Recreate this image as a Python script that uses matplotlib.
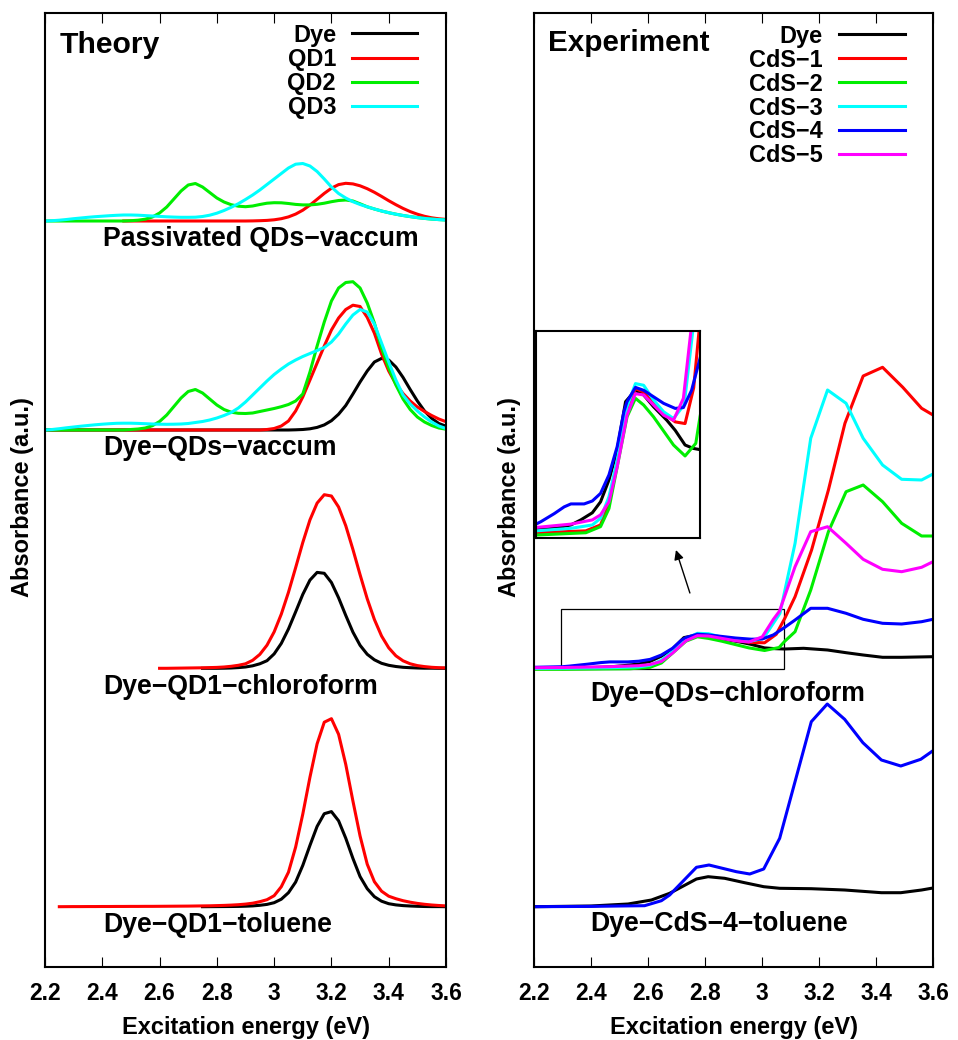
import numpy as np
import matplotlib.pyplot as plt
from matplotlib.patches import Rectangle

plt.rcParams['font.family'] = ['Liberation Sans', 'DejaVu Sans']
plt.rcParams['font.weight'] = 'bold'

# ---------------- theory (broadened spectra, sampled every 0.025 eV) ----------------
e_th = [2.200, 2.225, 2.250, 2.275, 2.300, 2.325, 2.350, 2.375, 2.400, 2.425,
        2.450, 2.475, 2.500, 2.525, 2.550, 2.575, 2.600, 2.625, 2.650, 2.675,
        2.700, 2.725, 2.750, 2.775, 2.800, 2.825, 2.850, 2.875, 2.900, 2.925,
        2.950, 2.975, 3.000, 3.025, 3.050, 3.075, 3.100, 3.125, 3.150, 3.175,
        3.200, 3.225, 3.250, 3.275, 3.300, 3.325, 3.350, 3.375, 3.400, 3.425,
        3.450, 3.475, 3.500, 3.525, 3.550, 3.575, 3.600]

pass_qd1 = [0, 0, 0, 0, 0, 0, 0, 0, 0, 0,
            0, 0, 0, 0, 0, 0, 0, 0, 0, 0,
            0, 0, 0, 0, 0, 0, 0, 0, 0, 0.1,
            0.3, 0.6, 1.2, 2.3, 4.1, 6.9, 10.8, 15.9, 21.7, 27.6,
            32.8, 36.4, 37.7, 37.1, 35.2, 32.3, 28.7, 24.6, 20.3, 16.3,
            12.6, 9.4, 6.8, 4.7, 3.2, 2.2, 1.6]
pass_qd2 = [0, 0, 0, 0, 0, 0, 0, 0, 0, 0,
            0, 0, 0.3, 0.8, 1.8, 4, 8, 14, 22, 30,
            36, 37.5, 34, 28.5, 23, 19, 16.3, 14.8, 14.3, 15,
            16.5, 17.8, 18.3, 18.2, 17.5, 16.6, 16.1, 16.1, 16.7, 17.8,
            19.3, 20.5, 21, 20, 17.2, 14.2, 12, 10, 8.3, 6.8,
            5.5, 4.4, 3.4, 2.6, 1.9, 1.4, 1]
pass_qd3 = [0, 0.3, 0.8, 1.5, 2.3, 3, 3.7, 4.3, 4.8, 5.3,
            5.7, 6, 6, 5.8, 5.4, 5, 4.6, 4.2, 3.9, 3.7,
            3.7, 3.8, 4.5, 5.8, 7.8, 10.5, 13.7, 17.3, 21.5, 26,
            31, 36.5, 42, 47.5, 53, 56.8, 57.5, 55, 49.5, 42,
            34, 27.5, 23, 19.3, 16.5, 14.2, 12, 10, 8.3, 6.8,
            5.5, 4.4, 3.4, 2.6, 1.9, 1.4, 1]

vac_dye = [0, 0, 0, 0, 0, 0, 0, 0, 0, 0,
           0, 0, 0, 0, 0, 0, 0, 0, 0, 0,
           0, 0, 0, 0, 0, 0, 0, 0, 0, 0,
           0, 0, 0, 0, 0, 0.2, 0.5, 1.2, 2.6, 5.1,
           9.3, 15.8, 24.5, 36, 48, 59, 68, 71.6, 70, 63,
           52.6, 40.5, 29, 19, 11.6, 6.5, 3.8]
vac_qd1 = [0, 0, 0, 0, 0, 0, 0, 0, 0, 0,
           0, 0, 0, 0, 0, 0, 0, 0, 0, 0,
           0, 0, 0, 0, 0, 0, 0, 0, 0, 0,
           0, 0.5, 1.5, 4, 9, 19, 33, 50, 67, 84,
           100, 112, 120.5, 124.8, 123.5, 112.6, 96.8, 76, 59, 46,
           36.5, 29, 23, 18.5, 14.5, 11, 8.3]
vac_qd2 = [0, 0, 0, 0, 0, 0, 0, 0, 0, 0,
           0, 0, 0.5, 1, 2, 4.3, 8.5, 15, 23.5, 32,
           38.5, 40.5, 37, 31, 25, 20.5, 17.8, 16.7, 16.5, 17,
           18.5, 20, 21.5, 23.3, 25.5, 29, 36, 58, 84, 108,
           129, 142, 147.5, 148.3, 142, 127, 107, 82, 62, 45,
           31, 20.5, 13, 8, 4.5, 2, 0.8]
vac_qd3 = [0, 0.5, 1.3, 2.2, 3, 3.8, 4.5, 5.2, 5.8, 6.3,
           6.7, 6.8, 6.8, 6.6, 6.3, 6, 5.8, 5.7, 5.8, 6,
           6.5, 7.5, 8.5, 10, 12, 14.5, 17.5, 22, 28, 35,
           42, 49, 55.5, 61, 66, 70, 73.5, 76.5, 79.5, 82.5,
           88, 96, 106, 115, 120.5, 118, 106, 87, 68, 50,
           35, 26, 19, 13, 8, 4, 1.5]

chl_dye = [0, 0, 0, 0, 0, 0, 0, 0, 0, 0,
           0, 0, 0, 0, 0, 0, 0, 0, 0, 0,
           0, 0, 0, 0, 0, 0.1, 0.3, 0.7, 1.3, 2.5,
           4.5, 7.6, 14.4, 24.9, 39.3, 56.4, 73.9, 88.2, 95.9, 95,
           85.8, 70.5, 52.9, 36.2, 23, 14, 8.5, 5, 3, 1.8,
           1, 0.6, 0.3, 0.1, 0.1, 0, 0]
chl_qd1 = [0, 0, 0, 0, 0, 0, 0, 0, 0, 0,
           0, 0, 0, 0, 0, 0, 0, 0, 0.1, 0.2,
           0.3, 0.4, 0.5, 0.7, 0.9, 1.3, 2, 3, 4.5, 8,
           13.9, 23.1, 36.4, 54.2, 76, 100.6, 125.8, 148.4, 165.2, 173.6,
           172.3, 161.3, 142.6, 118.9, 93.6, 69.5, 48.8, 32.3, 20.5, 12.5,
           7.5, 4.5, 2.7, 1.7, 1, 0.6, 0.4]

tol_dye = [0, 0, 0, 0, 0, 0, 0, 0, 0, 0,
           0, 0, 0, 0, 0, 0, 0, 0, 0, 0,
           0, 0, 0, 0.05, 0.1, 0.15, 0.2, 0.3, 0.5, 0.8,
           1.4, 2.3, 4, 7.5, 14, 24.6, 41.3, 61.3, 80.3, 93,
           95.1, 85.9, 68.5, 48.3, 30.1, 18, 10, 5.5, 3, 1.8,
           1.1, 0.7, 0.4, 0.2, 0.1, 0.1, 0]
tol_qd1 = [0, 0, 0, 0.05, 0.1, 0.1, 0.15, 0.15, 0.2, 0.2,
           0.25, 0.25, 0.3, 0.3, 0.35, 0.35, 0.4, 0.45, 0.5, 0.55,
           0.6, 0.7, 0.8, 0.9, 1.1, 1.3, 1.6, 2, 2.6, 3.5,
           5, 7, 11, 20, 34.5, 59.6, 92.6, 129.5, 162.9, 184.5,
           188, 172.4, 142.3, 105.7, 70.7, 42.5, 25, 15.5, 10.5, 8,
           6, 4.5, 3.3, 2.4, 1.7, 1.2, 0.8]

# ---------------- experiment (measured spectra) ----------------
dye_chl_e = [2.2, 2.3, 2.387, 2.466, 2.513, 2.568, 2.607, 2.647, 2.686, 2.726, 2.773, 2.812,
             2.859, 2.922, 2.962, 3.009, 3.048, 3.08, 3.146, 3.23, 3.295, 3.355, 3.423, 3.49, 3.6]
dye_chl_a = [1.3, 1.3, 1.6, 2.4, 3.6, 5.3, 7.9, 13.1, 20.2, 31.7, 34.4, 33.3,
             30.5, 27.3, 24.9, 21.4, 20.6, 20.3, 21, 19.3, 16.6, 14.3, 12, 12, 12.6]
cds1_e = [2.2, 2.3, 2.537, 2.607, 2.647, 2.686, 2.733, 2.773, 2.812, 2.859, 2.907, 2.962,
          3.009, 3.05, 3.08, 3.116, 3.174, 3.233, 3.291, 3.355, 3.423, 3.494, 3.56, 3.6]
cds1_a = [0.5, 0.55, 1.0, 2.4, 7.5, 17.0, 29.7, 34.8, 34.0, 31.3, 28.9, 26.9,
          26.5, 35, 51, 72.6, 119.3, 179.3, 246, 293.3, 302, 282, 261, 254.3]
cds2_e = [2.2, 2.3, 2.537, 2.607, 2.647, 2.686, 2.733, 2.773, 2.812, 2.859, 2.954, 3.009,
          3.06, 3.08, 3.116, 3.171, 3.233, 3.295, 3.355, 3.423, 3.49, 3.56, 3.6]
cds2_a = [0, 0, 0.55, 2.0, 6.3, 16.2, 28.1, 32.5, 30.9, 28.1, 21.4, 18.8,
          21.8, 28.1, 37.6, 79.3, 137.6, 177.6, 184.3, 167.6, 146, 133.3, 133.3]
cds3_e = [2.2, 2.3, 2.466, 2.568, 2.607, 2.647, 2.686, 2.733, 2.773, 2.812, 2.859, 2.907,
          2.954, 3.005, 3.063, 3.116, 3.171, 3.23, 3.295, 3.355, 3.423, 3.49, 3.56, 3.6]
cds3_a = [0.8, 1.0, 1.6, 2.4, 4.0, 9.1, 17.8, 30.5, 36.0, 35.6, 32.1, 29.3,
          27.7, 31, 56, 126, 231, 279.3, 266, 231, 204.3, 190, 189.3, 195.3]
cds4_e = [2.2, 2.3, 2.324, 2.387, 2.434, 2.466, 2.529, 2.568, 2.607, 2.647, 2.686, 2.718,
          2.733, 2.773, 2.812, 2.907, 2.962, 3.001, 3.04, 3.08, 3.116, 3.171, 3.23, 3.295,
          3.355, 3.423, 3.49, 3.56, 3.6]
cds4_a = [2, 2.6, 3.2, 5.1, 6.7, 7.4, 7.4, 8.1, 9.9, 14.3, 21, 29.3,
          31.7, 35.1, 34.4, 31.3, 30.1, 30.3, 34.4, 42, 49.3, 61, 61, 56,
          50, 46, 45.3, 47.6, 50]
cds5_e = [2.2, 2.3, 2.466, 2.568, 2.607, 2.647, 2.686, 2.733, 2.773, 2.812, 2.907, 2.954,
          3.001, 3.04, 3.061, 3.116, 3.171, 3.23, 3.295, 3.355, 3.423, 3.49, 3.56, 3.6]
cds5_a = [1.6, 1.8, 2.6, 3.6, 4.8, 7.9, 16.2, 28.5, 33.6, 33.3, 28.5, 27.3,
          32.5, 50, 58, 102.6, 137.6, 142.6, 126, 110, 100, 97.6, 102, 107.6]

dye_tol_e = [2.2, 2.4, 2.53, 2.612, 2.676, 2.77, 2.811, 2.869, 2.939, 3.006, 3.062,
             3.173, 3.29, 3.419, 3.487, 3.56, 3.6]
dye_tol_a = [0, 0.7, 2.7, 6.7, 13.4, 27.7, 30, 28.4, 24, 20, 18.4,
             18, 16.7, 14, 14, 16.7, 18.7]
cds4_tol_e = [2.2, 2.4, 2.5, 2.588, 2.647, 2.676, 2.77, 2.814, 2.91, 2.957, 3.006,
              3.062, 3.173, 3.229, 3.29, 3.354, 3.419, 3.487, 3.557, 3.6]
cds4_tol_a = [0, 0.3, 0.7, 1, 6, 11.7, 39.4, 41.7, 35, 32.7, 37.7,
              68.4, 185, 202.7, 187.4, 164, 146.7, 140.7, 147.4, 156]

xticks = [2.2, 2.4, 2.6, 2.8, 3.0, 3.2, 3.4, 3.6]
xtick_labels = ['2.2', '2.4', '2.6', '2.8', '3', '3.2', '3.4', '3.6']

BLACK, RED, GREEN, CYAN, BLUE, MAGENTA = '#000000', '#ff0000', '#00ee00', '#00ffff', '#0000ff', '#ff00ff'
LW = 2.2

W, H = 958, 1040
fig = plt.figure(figsize=(W / 100, H / 100), dpi=100)


def px_axes(l, t, r, b):
    return fig.add_axes([l / W, 1 - b / H, (r - l) / W, (b - t) / H])


ax1 = px_axes(45, 13, 446, 967)
ax2 = px_axes(534, 13, 933, 967)

for ax in (ax1, ax2):
    ax.set_xlim(2.2, 3.6)
    ax.set_ylim(0, 954)
    ax.set_yticks([])
    ax.set_xticks(xticks)
    ax.set_xticklabels(xtick_labels, fontsize=16.4, fontweight='bold')
    ax.tick_params(axis='x', direction='in', top=True, length=7.2, width=0.8, pad=11)
    for s in ax.spines.values():
        s.set_linewidth(1.5)

# ---- left panel: theory ----
e = np.array(e_th)
groups = [
    (746, [(pass_qd1, 11, RED), (pass_qd2, 0, GREEN), (pass_qd3, 0, CYAN)]),
    (537, [(vac_dye, 0, BLACK), (vac_qd1, 0, RED), (vac_qd2, 0, GREEN), (vac_qd3, 0, CYAN)]),
    (298.7, [(chl_dye, 22, BLACK), (chl_qd1, 16, RED)]),
    (60.3, [(tol_dye, 22, BLACK), (tol_qd1, 2, RED)]),
]
for offset, curves in groups:
    for vals, start, col in curves:
        ax1.plot(e[start:], offset + np.array(vals)[start:], color=col, lw=LW)

ax1.text(2.252, 914, 'Theory', fontsize=21.7, va='baseline')
for y, txt in [(721, 'Passivated QDs−vaccum'), (511.6, 'Dye−QDs−vaccum'),
               (273.3, 'Dye−QD1−chloroform'), (35, 'Dye−QD1−toluene')]:
    ax1.text(2.4025, y, txt, fontsize=19.2, va='baseline')

# legend (gnuplot style: label right-aligned, sample to its right)
for i, (lab, col) in enumerate([('Dye', BLACK), ('QD1', RED), ('QD2', GREEN), ('QD3', CYAN)]):
    y = 967 - (33.3 + i * 24.2)
    ax1.plot([3.272, 3.499], [y, y], color=col, lw=LW)
    ax1.text(3.216, y - 8.4, lab, fontsize=16.9, ha='right', va='baseline')

# ---- right panel: experiment ----
off_chl, off_tol = 297.7, 60.3
exp_chl = [(dye_chl_e, dye_chl_a, BLACK), (cds1_e, cds1_a, RED), (cds2_e, cds2_a, GREEN),
           (cds3_e, cds3_a, CYAN), (cds4_e, cds4_a, BLUE), (cds5_e, cds5_a, MAGENTA)]
for xe, ya, col in exp_chl:
    ax2.plot(xe, off_chl + np.array(ya), color=col, lw=LW)
ax2.plot(dye_tol_e, off_tol + np.array(dye_tol_a), color=BLACK, lw=LW)
ax2.plot(cds4_tol_e, off_tol + np.array(cds4_tol_a), color=BLUE, lw=LW)

ax2.text(2.249, 916, 'Experiment', fontsize=21.3, va='baseline')
ax2.text(2.399, 266, 'Dye−QDs−chloroform', fontsize=19.2, va='baseline')
ax2.text(2.399, 36.3, 'Dye−CdS−4−toluene', fontsize=19.2, va='baseline')

exp_labels = [('Dye', BLACK), ('CdS−1', RED), ('CdS−2', GREEN), ('CdS−3', CYAN),
              ('CdS−4', BLUE), ('CdS−5', MAGENTA)]
for i, (lab, col) in enumerate(exp_labels):
    y = 967 - (34.3 + i * 23.95)
    ax2.plot([3.269, 3.501], [y, y], color=col, lw=LW)
    ax2.text(3.214, y - 8.4, lab, fontsize=16.9, ha='right', va='baseline')

# zoom box and arrow
ax2.add_patch(Rectangle((2.295, off_chl + 0.7), 0.783, 60, fill=False, ec='black', lw=0.9))
ax2.annotate('', xy=(2.698, 417), xytext=(2.747, 374),
             arrowprops=dict(arrowstyle='-|>', color='black', lw=1.0,
                             mutation_scale=14, shrinkA=0, shrinkB=0))

# inset
ins = px_axes(536, 331, 700, 538)
for xe, ya, col in exp_chl:
    ins.plot(xe, off_chl + np.array(ya), color=col, lw=LW)
ins.set_xlim(2.3, 3.08)
ins.set_ylim(off_chl - 0.7, off_chl + 48.5)
ins.set_xticks([])
ins.set_yticks([])
for s in ins.spines.values():
    s.set_linewidth(1.5)

# axis labels
for cx in (245.5, 733.5):
    fig.text(cx / W, 1 - 1034 / H, 'Excitation energy (eV)', ha='center', va='baseline', fontsize=17)
for cx in (23, 510):
    fig.text(cx / W, 1 - 497 / H, 'Absorbance (a.u.)', rotation=90, ha='center', va='center', fontsize=17)

fig.savefig('out.png', dpi=100)
